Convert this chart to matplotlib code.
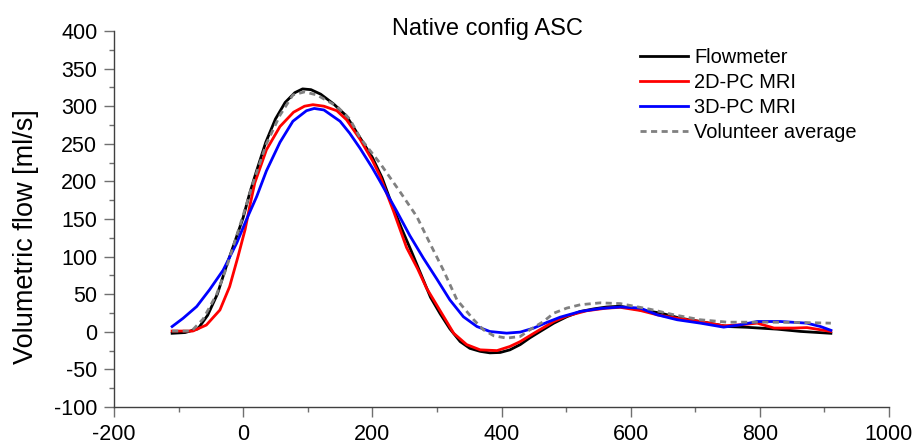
import matplotlib
matplotlib.use('Agg')
import matplotlib.pyplot as plt
from matplotlib.ticker import MultipleLocator

plt.rcParams['font.family'] = ['Liberation Sans', 'DejaVu Sans']
plt.rcParams['axes.unicode_minus'] = False

# flowmeter (reference)
flow_x = [-110, -90, -70, -55, -40, -25, -12, 0, 10, 20, 35, 50, 65, 80, 92, 105, 120, 140, 160,
          181, 200, 215, 230, 245, 260, 275, 290, 305, 320, 336, 351, 367, 382, 398, 413, 429, 444,
          460, 481, 501, 522, 543, 563, 584, 615, 646, 677, 708, 750, 780, 827, 863, 910]
flow_y = [-2, -1, 4, 22, 50, 90, 122, 152, 184, 212, 252, 283, 305, 318, 323, 322, 316, 303, 287,
          258, 232, 205, 170, 138, 108, 77, 46, 24, 4, -13, -22, -26, -28, -27.5, -24, -17, -8,
          0.5, 11.5, 20, 27, 30.5, 33, 34, 29, 25, 18, 13.7, 7, 6, 3.5, 0.5, -2]

# 2D phase contrast
pc2d_x = [-110, -95, -78, -57, -36, -21, -8, 3, 10, 18, 36, 57, 78, 95, 108, 125, 145, 160, 181,
          200, 212, 233, 253, 270, 284, 305, 326, 346, 367, 393, 413, 429, 450, 481, 501, 532, 563,
          584, 615, 641, 672, 708, 744, 770, 796, 822, 853, 873, 894, 910]
pc2d_y = [1, 1, 1, 9, 29, 60, 100, 136, 166, 198, 242, 273, 292, 300, 302, 300, 294, 282, 256,
          228, 207, 160, 112, 84, 58, 28, -2, -17, -24, -25, -19.5, -13, -2, 13.7, 21, 28, 31.5,
          32.5, 28.3, 22.6, 18, 13.7, 8, 9.3, 11.5, 5, 5, 5.6, 2.7, 0.5]

# 3D phase contrast
pc3d_x = [-110, -93, -72, -52, -31, -10, 5, 21, 36, 57, 77, 98, 110, 125, 150, 165, 181, 200, 212,
          238, 258, 279, 300, 320, 341, 362, 382, 408, 429, 450, 470, 491, 522, 553, 584, 615, 641,
          672, 708, 744, 770, 796, 832, 873, 894, 910]
pc3d_y = [7, 18, 33.6, 56, 82, 118, 149, 180, 214, 252, 280, 294, 297, 295, 280, 264, 244, 218, 200,
          160, 128, 98, 70, 42.5, 20, 7, 0.4, -1.8, -0.4, 5, 12.4, 19.5, 27, 31, 33, 31.5, 22.6,
          16, 11.5, 6.2, 9.3, 13.7, 13.7, 11.5, 7, 2]

# volunteer average
vol_x = [-110, -80, -62, -41, -26, -13, 0, 13, 36, 57, 77, 95, 114, 145, 165, 181, 212, 243, 269,
         289, 310, 331, 357, 372, 388, 408, 429, 444, 465, 481, 501, 522, 553, 584, 630, 667, 708,
         750, 811, 863, 910]
vol_y = [1, 1, 17, 50, 85, 120, 155, 192, 250, 288, 315, 319, 315, 300, 283, 258, 224, 186, 153,
         118, 82, 42.5, 16, 2.7, -5.3, -8.4, -6.2, 2.7, 13.7, 24.8, 31.5, 36, 38.5, 37.5, 30, 22.6,
         16, 12.8, 12.8, 12.4, 11.5]

W, H = 917, 447
fig = plt.figure(figsize=(W / 100, H / 100), dpi=100)
ax = fig.add_axes([114 / W, 1 - 407 / H, 775 / W, 376 / H])

lw = 2.0
ax.plot(flow_x, flow_y, color='black', lw=lw, label='Flowmeter')
ax.plot(pc2d_x, pc2d_y, color='#ff0000', lw=lw, label='2D-PC MRI')
ax.plot(pc3d_x, pc3d_y, color='#0000ff', lw=lw, label='3D-PC MRI')
ax.plot(vol_x, vol_y, color='#808080', lw=lw, ls=(0, (2.2, 1.6)), label='Volunteer average')

ax.set_xlim(-200, 1000)
ax.set_ylim(-100, 400)
ax.xaxis.set_major_locator(MultipleLocator(200))
ax.xaxis.set_minor_locator(MultipleLocator(100))
ax.yaxis.set_major_locator(MultipleLocator(50))
ax.yaxis.set_minor_locator(MultipleLocator(25))

for s in ['top', 'right']:
    ax.spines[s].set_visible(False)
for s in ['left', 'bottom']:
    ax.spines[s].set_color('#404040')
    ax.spines[s].set_linewidth(1.0)

ax.tick_params(which='major', direction='out', length=7, width=1, color='#707070',
               labelsize=15.5, pad=5)
ax.tick_params(which='minor', direction='out', length=3.5, width=1, color='#707070')

ax.set_ylabel('Volumetric flow [ml/s]', fontsize=19.5)
ax.yaxis.set_label_coords(-0.097, 0.452)

fig.text(487 / W, 1 - 29 / H, 'Native config ASC', fontsize=17, ha='center', va='center')

fig.legend(loc='upper left', bbox_to_anchor=(640 / W, 1 - 48 / H), frameon=False,
           fontsize=14.4, handlelength=2.4, handletextpad=0.3, labelspacing=0.3,
           borderpad=0, borderaxespad=0)

fig.savefig('out.png', dpi=100)
